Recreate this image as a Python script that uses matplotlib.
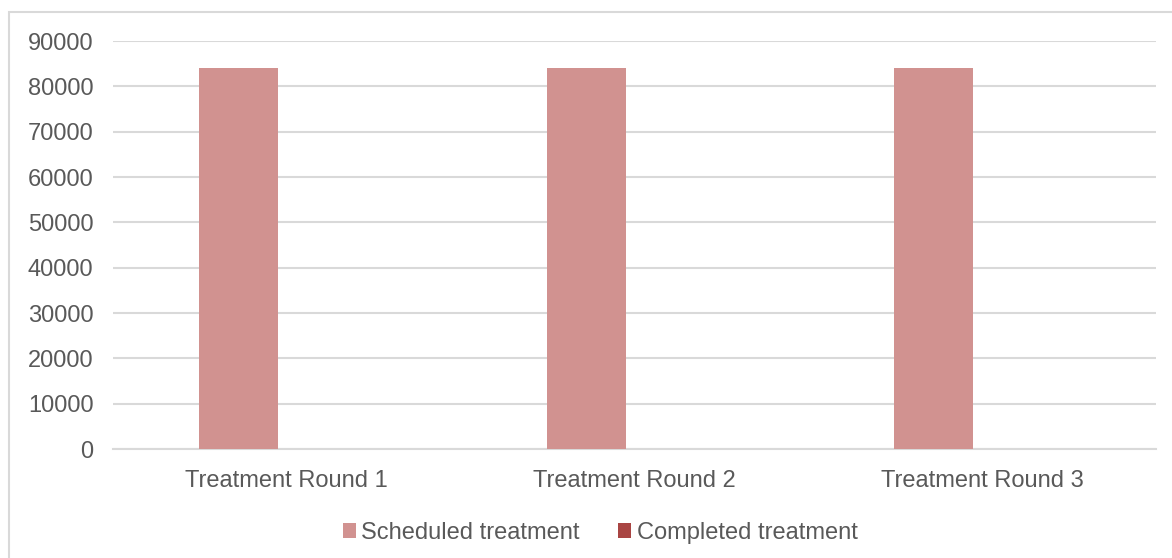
import numpy as np
import matplotlib
matplotlib.use("Agg")
import matplotlib.pyplot as plt
from matplotlib.patches import Rectangle

rounds = ["Treatment Round 1", "Treatment Round 2", "Treatment Round 3"]
scheduled = [84000, 84000, 84000]
completed = [0, 0, 0]
series_names = ["Scheduled treatment", "Completed treatment"]

plt.rcParams['font.family'] = ['Liberation Sans', 'DejaVu Sans']
text_col = '#595959'
grid_col = '#D9D9D9'

fig = plt.figure(figsize=(11.72, 5.58), dpi=100)
ax = fig.add_axes([0.0964, 0.1953, 0.8899, 0.7312])

x = np.arange(len(rounds))
w = 0.227
off = 0.139
ax.bar(x - off, scheduled, w, color='#D19290', label=series_names[0], zorder=3)
ax.bar(x + off, completed, w, color='#A94543', label=series_names[1], zorder=3)

ax.set_xlim(-0.5, len(rounds) - 0.5)
ax.set_ylim(0, 90000)
ax.set_yticks(np.arange(0, 90001, 10000))
ax.set_yticklabels([str(v) for v in range(0, 90001, 10000)])
ax.set_xticks(x)
ax.set_xticklabels(rounds)

ax.yaxis.grid(True, color=grid_col, linewidth=1.5, zorder=0)
ax.set_axisbelow(True)
for s in ['top', 'right', 'left']:
    ax.spines[s].set_visible(False)
ax.spines['bottom'].set_color(grid_col)
ax.spines['bottom'].set_linewidth(1.5)
ax.tick_params(axis='both', length=0, labelsize=17, colors=text_col)
ax.tick_params(axis='y', pad=14)
ax.tick_params(axis='x', pad=15)

leg = fig.legend(loc='center', bbox_to_anchor=(0.512, 0.045), ncol=2, frameon=False,
                 fontsize=17, handlelength=0.55, handleheight=0.55, handletextpad=0.25,
                 columnspacing=1.6, labelcolor=text_col)

# light outer frame around the chart
fig.patches.append(Rectangle((9 / 1172, -0.1), 1.1, 1 - 12 / 558 + 0.1,
                             transform=fig.transFigure, fill=False,
                             edgecolor=grid_col, linewidth=1.5))

fig.savefig("out.png", dpi=100)
